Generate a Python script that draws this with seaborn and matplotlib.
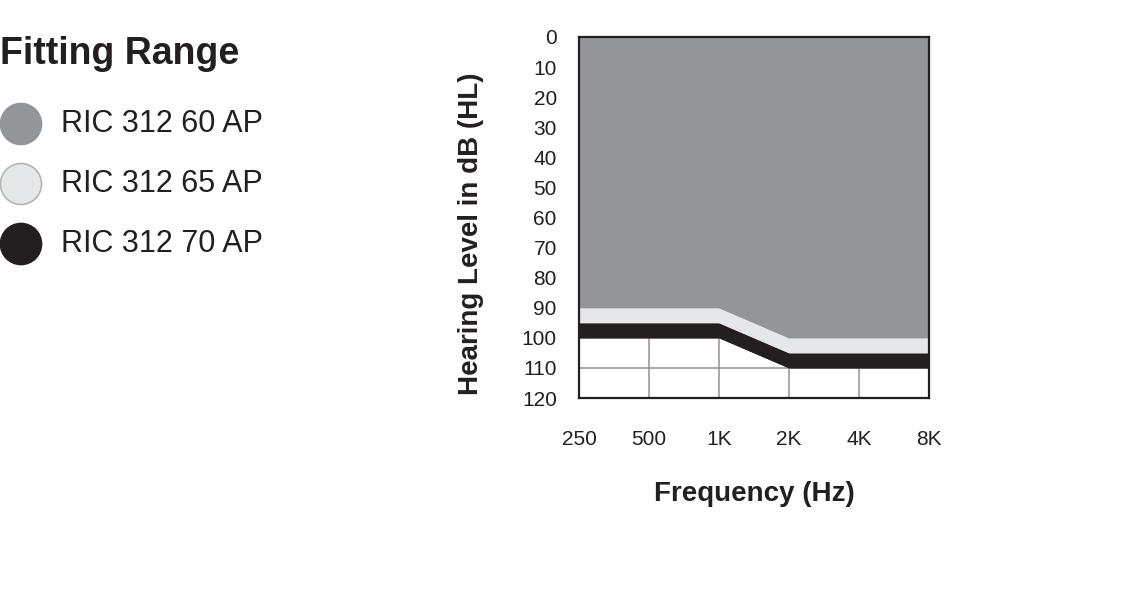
import matplotlib
matplotlib.use("Agg")
import matplotlib.pyplot as plt
import matplotlib.patches as mpatches
import seaborn as sns
import pandas as pd

# frequencies (Hz) and lower limit of each fitting range (dB HL)
freqs = [250, 500, 1000, 2000, 4000, 8000]
freq_labels = ["250", "500", "1K", "2K", "4K", "8K"]
models = ["RIC 312 60 AP", "RIC 312 65 AP", "RIC 312 70 AP"]
limit_60 = [90, 90, 90, 100, 100, 100]
limit_65 = [95, 95, 95, 105, 105, 105]
limit_70 = [100, 100, 100, 110, 110, 110]
colors = ["#939598", "#e6e7e8", "#231f20"]
edge_colors = ["#939598", "#b5b5b5", "#231f20"]
y_ticks = list(range(0, 130, 10))

df = pd.DataFrame({"freq": freqs * 3,
                   "limit": limit_60 + limit_65 + limit_70,
                   "model": [m for m in models for _ in freqs]})

sns.set_theme(style="white")
plt.rcParams["font.family"] = ["Liberation Sans", "DejaVu Sans"]

fig = plt.figure(figsize=(11.4, 6), dpi=100)
ax = fig.add_axes([579 / 1140, 1 - 398 / 600, 350 / 1140, 361 / 600])

# draw the deepest range first so the lighter ones sit on top
for model, col in reversed(list(zip(models, colors))):
    sub = df[df["model"] == model]
    ax.fill_between(sub["freq"], 0, sub["limit"], color=col, lw=0, zorder=2)
    sns.lineplot(data=sub, x="freq", y="limit", color=col, lw=0.5, ax=ax, zorder=2)

ax.set_xscale("log", base=2)
ax.set_xlim(freqs[0], freqs[-1])
ax.set_ylim(120, 0)
ax.set_xticks(freqs)
ax.set_xticklabels(freq_labels)
ax.set_yticks(y_ticks)
ax.set_yticklabels([str(t) for t in y_ticks])
ax.minorticks_off()
ax.grid(True, color="#9a9a9a", lw=1.2, zorder=1)
ax.set_axisbelow(True)
ax.tick_params(axis="both", length=0, labelsize=15, colors="#231f20")
ax.tick_params(axis="x", pad=23)
ax.tick_params(axis="y", pad=16)
for s in ax.spines.values():
    s.set_visible(True)
    s.set_color("#231f20")
    s.set_linewidth(1.6)
    s.set_zorder(5)

ax.set_xlabel("Frequency (Hz)", fontsize=20, fontweight="bold", color="#231f20", labelpad=23)
ax.set_ylabel("Hearing Level in dB (HL)", fontsize=20, fontweight="bold", color="#231f20")
ax.yaxis.set_label_coords(-0.272, 0.455)

# legend block on the left
cond = ["Liberation Sans Narrow", "Liberation Sans", "DejaVu Sans"]
fig.text(0.0, 1 - 54 / 600, "Fitting Range", fontsize=27, fontweight="bold",
         family=cond, color="#231f20", va="center", ha="left")
for i, (model, col, ec) in enumerate(zip(models, colors, edge_colors)):
    yc = 1 - (124 + 60 * i) / 600
    fig.add_artist(mpatches.Ellipse((21 / 1140, yc), 41 / 1140, 41 / 600,
                                    transform=fig.transFigure, facecolor=col,
                                    edgecolor=ec, lw=1.2))
    fig.text(61 / 1140, yc, model, fontsize=22, family=cond, color="#231f20",
             va="center", ha="left")

fig.savefig("out.png", dpi=100)
